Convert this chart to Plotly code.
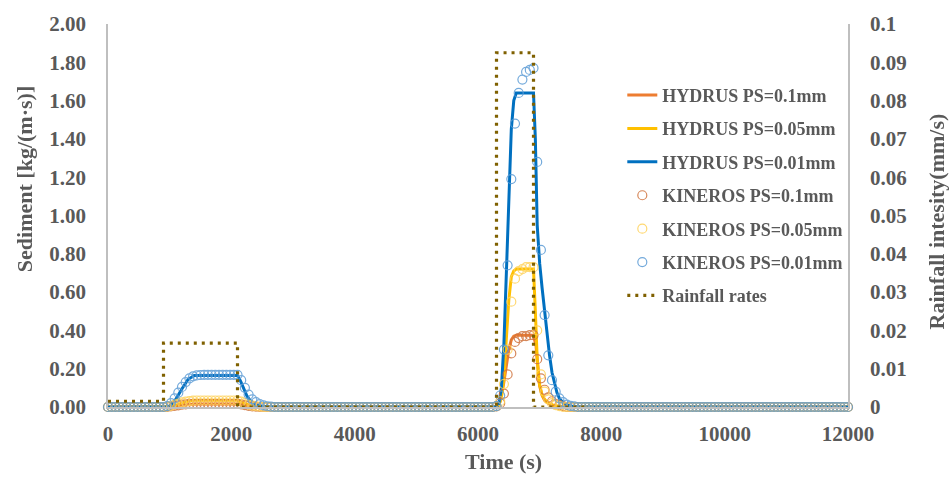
import numpy as np
import plotly.graph_objects as go

# ---------------- data ----------------
# KINEROS output interval (s)
kin_time = list(range(0, 12001, 60))

# KINEROS sediment discharge [kg/(m*s)] during the two storm events
# event 1 values start at t = 960 s, event 2 values start at t = 6300 s
kin_01_ev1 = [0.001, 0.003, 0.006, 0.009, 0.012, 0.014, 0.016, 0.017, 0.017, 0.017,
              0.017, 0.017, 0.017, 0.017, 0.017, 0.017, 0.017, 0.017, 0.017, 0.017,
              0.014, 0.010, 0.006, 0.003, 0.002]
kin_005_ev1 = [0.002, 0.006, 0.012, 0.018, 0.024, 0.028, 0.031, 0.033, 0.034, 0.034,
               0.034, 0.034, 0.034, 0.034, 0.034, 0.034, 0.034, 0.034, 0.034, 0.034,
               0.028, 0.020, 0.012, 0.007, 0.004, 0.002]
kin_001_ev1 = [0.005, 0.020, 0.045, 0.075, 0.105, 0.130, 0.150, 0.160, 0.165, 0.167,
               0.168, 0.168, 0.168, 0.168, 0.168, 0.168, 0.168, 0.168, 0.168, 0.168,
               0.140, 0.100, 0.065, 0.040, 0.025, 0.015, 0.008, 0.004, 0.002]

kin_01_ev2 = [0.003, 0.02, 0.07, 0.17, 0.28, 0.34, 0.36, 0.37, 0.37, 0.375, 0.375,
              0.25, 0.15, 0.09, 0.05, 0.03, 0.015, 0.01, 0.005]
kin_005_ev2 = [0.004, 0.03, 0.12, 0.30, 0.55, 0.67, 0.71, 0.72, 0.73, 0.73, 0.73,
               0.40, 0.17, 0.08, 0.04, 0.02, 0.01, 0.005]
kin_001_ev2 = [0.005, 0.06, 0.30, 0.74, 1.19, 1.48, 1.64, 1.71, 1.75, 1.76, 1.77,
               1.28, 0.82, 0.48, 0.27, 0.14, 0.08, 0.045, 0.025, 0.012, 0.006, 0.003]

# HYDRUS sediment discharge [kg/(m*s)]
hyd_01_time = [0, 950, 1000, 1100, 1200, 1300, 1400, 2100, 2150, 2200, 2300, 2400, 2500,
               6300, 6340, 6380, 6420, 6460, 6500, 6540, 6580, 6620, 6900, 6940, 6970,
               7000, 7040, 7080, 7140, 7220, 7320, 7450, 12000]
hyd_01 = [0, 0, 0.001, 0.005, 0.010, 0.014, 0.016, 0.016, 0.013, 0.009, 0.004, 0.001, 0,
          0, 0.01, 0.06, 0.13, 0.22, 0.30, 0.35, 0.37, 0.375, 0.375, 0.32, 0.20,
          0.11, 0.06, 0.035, 0.018, 0.008, 0.002, 0, 0]

hyd_005_time = [0, 950, 1000, 1100, 1200, 1300, 1400, 2100, 2150, 2200, 2300, 2400, 2500,
                6300, 6340, 6380, 6420, 6460, 6500, 6540, 6580, 6620, 6900, 6930, 6960,
                6990, 7030, 7080, 7140, 7220, 7320, 7450, 12000]
hyd_005 = [0, 0, 0.002, 0.010, 0.022, 0.031, 0.035, 0.035, 0.028, 0.020, 0.008, 0.003, 0,
           0, 0.01, 0.05, 0.15, 0.36, 0.56, 0.68, 0.71, 0.72, 0.72, 0.50, 0.25,
           0.13, 0.07, 0.04, 0.02, 0.009, 0.003, 0, 0]

hyd_001_time = [0, 950, 1000, 1100, 1200, 1300, 1400, 2100, 2150, 2200, 2250, 2300, 2400,
                2500, 2600, 6300, 6340, 6380, 6420, 6460, 6500, 6540, 6580, 6620, 6900,
                6930, 6960, 7000, 7040, 7080, 7120, 7160, 7200, 7240, 7280, 7320, 7380,
                7440, 7540, 7650, 12000]
hyd_001 = [0, 0, 0.005, 0.040, 0.095, 0.145, 0.165, 0.165, 0.135, 0.095, 0.060, 0.035, 0.012,
           0.004, 0, 0, 0.02, 0.10, 0.33, 0.70, 1.10, 1.45, 1.60, 1.64, 1.64,
           1.40, 0.95, 0.75, 0.62, 0.50, 0.38, 0.27, 0.18, 0.12, 0.075, 0.045, 0.022,
           0.010, 0.003, 0, 0]

# Rainfall intensity (mm/s)
rain_time = [0, 900, 900, 2100, 2100, 6300, 6300, 6900, 6900, 7800]
rain_rate = [0.0015, 0.0015, 0.0167, 0.0167, 0, 0, 0.0925, 0.0925, 0, 0]

# axis tick labels
x_ticks = [0, 2000, 4000, 6000, 8000, 10000, 12000]
x_tick_text = ["0", "2000", "4000", "6000", "8000", "10000", "12000"]


def place(values, start):
    """Put event values on the KINEROS time grid, zero elsewhere."""
    out = np.zeros(len(kin_time))
    i = kin_time.index(start)
    out[i:i + len(values)] = values
    return out


kin_01 = place(kin_01_ev1, 960) + place(kin_01_ev2, 6300)
kin_005 = place(kin_005_ev1, 960) + place(kin_005_ev2, 6300)
kin_001 = place(kin_001_ev1, 960) + place(kin_001_ev2, 6300)

# ---------------- styling ----------------
FONT = "Liberation Serif"
GREY = "#595959"
AXIS = "#BFBFBF"

W, H = 950, 478
L, R, T, B = 108, 102, 17, 71
pw, ph = W - L - R, H - T - B

fig = go.Figure()

line_series = [
    ("HYDRUS PS=0.1mm", hyd_01_time, hyd_01, "#ED7D31"),
    ("HYDRUS PS=0.05mm", hyd_005_time, hyd_005, "#FFC000"),
    ("HYDRUS PS=0.01mm", hyd_001_time, hyd_001, "#0070C0"),
]
for i, (name, t, v, c) in enumerate(line_series):
    fig.add_trace(go.Scatter(
        x=t, y=v, name=name, mode="lines",
        line=dict(color=c, width=3),
        legendgroup=f"g{i}", legendrank=i + 1, yaxis="y",
    ))

circle_series = [
    ("KINEROS PS=0.1mm", kin_01, "#D0733D"),
    ("KINEROS PS=0.05mm", kin_005, "#FFD25A"),
    ("KINEROS PS=0.01mm", kin_001, "#5B9BD5"),
]
for i, (name, v, c) in enumerate(circle_series):
    fig.add_trace(go.Scatter(
        x=kin_time, y=v, name=name, mode="markers",
        marker=dict(symbol="circle-open", size=9, color=c, line=dict(width=1.2, color=c)),
        opacity=0.85, cliponaxis=False,
        legendgroup=f"g{i + 3}", legendrank=i + 4, yaxis="y",
    ))

fig.add_trace(go.Scatter(
    x=rain_time, y=rain_rate, name="Rainfall rates", mode="lines",
    line=dict(color="#7F6000", width=3.2, dash="3px,5px"),
    legendgroup="g6", legendrank=7, yaxis="y2",
))

tick_font = dict(family=FONT, size=21, color=GREY, weight="bold")
title_font = dict(family=FONT, size=22, color=GREY, weight="bold")


def px_x(x):
    return (x - L) / pw


def px_y(y):
    return (H - B - y) / ph


fig.update_layout(
    width=W, height=H,
    margin=dict(l=L, r=R, t=T, b=B),
    paper_bgcolor="white", plot_bgcolor="white",
    showlegend=True,
    legend=dict(
        x=0.695, y=0.862, xanchor="left", yanchor="top",
        font=dict(family=FONT, size=18, color=GREY, weight="bold"),
        bgcolor="rgba(0,0,0,0)", tracegroupgap=7,
    ),
    xaxis=dict(
        range=[0, 12000], tickvals=x_ticks, ticktext=x_tick_text,
        showgrid=False, zeroline=False, showline=True, linecolor=AXIS, linewidth=1.5,
        ticks="", tickfont=tick_font, ticklabelstandoff=7,
    ),
    yaxis=dict(
        range=[0, 2.0], dtick=0.2, tickformat=".2f",
        showgrid=False, zeroline=False, showline=True, linecolor=AXIS, linewidth=1.5,
        ticks="", tickfont=tick_font, ticklabelstandoff=16,
    ),
    yaxis2=dict(
        range=[0, 0.1], dtick=0.01, overlaying="y", side="right",
        showgrid=False, zeroline=False, showline=True, linecolor=AXIS, linewidth=1.5,
        ticks="", tickfont=tick_font, ticklabelstandoff=16,
    ),
    annotations=[
        dict(text="Time (s)", x=px_x(503), y=px_y(463), xref="paper", yref="paper",
             xanchor="center", yanchor="middle", showarrow=False, font=title_font),
        dict(text="Sediment [kg/(m·s)]", x=px_x(24), y=px_y(175), xref="paper", yref="paper",
             xanchor="center", yanchor="middle", textangle=-90, showarrow=False,
             font=title_font),
        dict(text="Rainfall intesity(mm/s)", x=px_x(936), y=px_y(218), xref="paper",
             yref="paper", xanchor="center", yanchor="middle", textangle=-90,
             showarrow=False, font=title_font),
    ],
)

fig.write_html("out.html")
